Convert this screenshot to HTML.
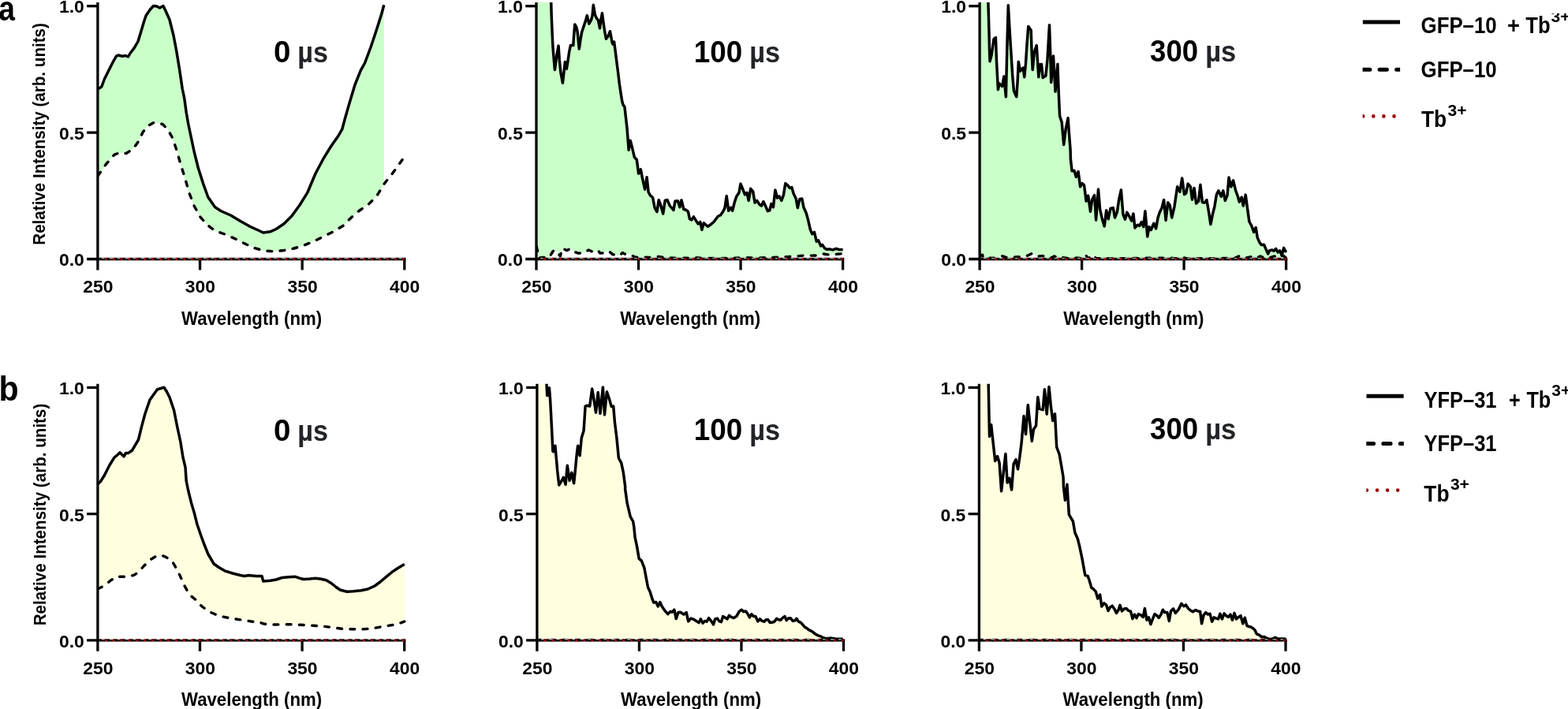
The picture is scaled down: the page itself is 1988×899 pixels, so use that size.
<!DOCTYPE html>
<html lang="en"><head><meta charset="utf-8"><title>Relative intensity spectra</title>
<style>html,body{margin:0;padding:0;background:#fff;overflow:hidden}svg{display:block}text{font-family:"Liberation Sans", sans-serif;font-weight:bold;fill:#000}</style></head>
<body>
<svg width="1988" height="899" viewBox="0 0 1988 899">
<rect width="1988" height="899" fill="#fff"/>
<g id="panel-a1">
<clipPath id="clip-a1"><rect x="123.9" y="3" width="391.9" height="327.5"/></clipPath>
<g clip-path="url(#clip-a1)">
<path d="M124 113 L128.8 110 L132.5 100 L137.5 90 L142.5 80 L147.5 71.2 L150 70 L155 71.2 L158.8 70.5 L162.5 72 L165 67.5 L170 61.2 L175 52.5 L178.8 40 L182.5 27.5 L185 20 L190 12.5 L194.5 7.5 L198.8 8 L202.5 10 L207 7.5 L210 13.8 L215 25 L220 45 L223.8 65 L227.5 87.5 L231.2 112.5 L233.8 125 L236.2 142.5 L238.8 157.5 L242.5 175 L246.2 192.5 L251.2 212.5 L257.5 232.5 L263.8 250 L272.5 262.5 L280 267.5 L292.5 273 L305 280.5 L317.5 287.5 L327.5 292 L333.8 295 L342.5 293.8 L350 290.5 L360 283.8 L370 273.8 L380 260 L390 243.8 L400 220 L410 201.2 L420 185 L428.8 172.5 L433.8 163.8 L437.5 150 L442.5 132.5 L450 107.5 L457.5 88.8 L462.5 80 L470 60 L477.5 37.5 L483.8 17.5 L486.8 6.2 L486.8 233.7 L477.5 248.8 L467.5 258.8 L455 267.5 L445 276.2 L435 286.2 L422.5 293.8 L410 300 L397.5 306.2 L385 311.2 L372.5 315 L360 317.5 L347.5 318.8 L335 318 L322.5 314.5 L310 308.8 L297.5 302.5 L285 297 L272.5 292.5 L262.5 285 L253.8 275 L246.2 261.2 L240 245 L235 227.5 L228.8 207.5 L223.8 190 L218.8 175 L212.5 163.8 L206.2 157.5 L195 155.5 L187.5 159.5 L181.2 167.5 L175 180 L168.8 188.8 L160 194.5 L151.2 193.8 L145 196.2 L135 207.5 L124 223Z" fill="#caffc9" stroke="none"/>
<path d="M124 223 L135 207.5 L145 196.2 L151.2 193.8 L160 194.5 L168.8 188.8 L175 180 L181.2 167.5 L187.5 159.5 L195 155.5 L206.2 157.5 L212.5 163.8 L218.8 175 L223.8 190 L228.8 207.5 L235 227.5 L240 245 L246.2 261.2 L253.8 275 L262.5 285 L272.5 292.5 L285 297 L297.5 302.5 L310 308.8 L322.5 314.5 L335 318 L347.5 318.8 L360 317.5 L372.5 315 L385 311.2 L397.5 306.2 L410 300 L422.5 293.8 L435 286.2 L445 276.2 L455 267.5 L467.5 258.8 L477.5 248.8 L487.5 232.5 L497.5 220 L507.5 206.2 L512.8 198.8" fill="none" stroke="#000" stroke-width="3.4" stroke-dasharray="5.8 10.4" stroke-linejoin="round" stroke-linecap="round"/>
<path d="M124 113 L128.8 110 L132.5 100 L137.5 90 L142.5 80 L147.5 71.2 L150 70 L155 71.2 L158.8 70.5 L162.5 72 L165 67.5 L170 61.2 L175 52.5 L178.8 40 L182.5 27.5 L185 20 L190 12.5 L194.5 7.5 L198.8 8 L202.5 10 L207 7.5 L210 13.8 L215 25 L220 45 L223.8 65 L227.5 87.5 L231.2 112.5 L233.8 125 L236.2 142.5 L238.8 157.5 L242.5 175 L246.2 192.5 L251.2 212.5 L257.5 232.5 L263.8 250 L272.5 262.5 L280 267.5 L292.5 273 L305 280.5 L317.5 287.5 L327.5 292 L333.8 295 L342.5 293.8 L350 290.5 L360 283.8 L370 273.8 L380 260 L390 243.8 L400 220 L410 201.2 L420 185 L428.8 172.5 L433.8 163.8 L437.5 150 L442.5 132.5 L450 107.5 L457.5 88.8 L462.5 80 L470 60 L477.5 37.5 L483.8 17.5 L486.8 6.2" fill="none" stroke="#000" stroke-width="3.5" stroke-linejoin="round" stroke-linecap="butt"/>
</g>
<path d="M110.1 328.5 H514.45" stroke="#000" stroke-width="3.3" fill="none"/>
<path d="M253.53 328.5 V342.4" stroke="#000" stroke-width="3.3" fill="none"/>
<path d="M383.17 328.5 V342.4" stroke="#000" stroke-width="3.3" fill="none"/>
<path d="M512.8 328.5 V342.4" stroke="#000" stroke-width="3.3" fill="none"/>
<path d="M125.55 327.5 H509.8" stroke="#fff" stroke-opacity="0.6" stroke-width="1.5" stroke-dasharray="3.6 6.32 5.4 4.52" stroke-dashoffset="-3.4" fill="none"/>
<path d="M124.4 328.5 H511.8" stroke="#b00000" stroke-width="3" stroke-linecap="round" stroke-dasharray="0 9.92" fill="none"/>
<path d="M123.9 3 V342.4" stroke="#000" stroke-width="3.3" fill="none"/>
<path d="M110.1 168.1 H123.9" stroke="#000" stroke-width="3.3" fill="none"/>
<path d="M110.1 7.7 H123.9" stroke="#000" stroke-width="3.3" fill="none"/>
<text x="124.3" y="371.4" font-size="22.9" text-anchor="middle" textLength="38.21" lengthAdjust="spacingAndGlyphs">250</text>
<text x="253.93" y="371.4" font-size="22.9" text-anchor="middle" textLength="38.21" lengthAdjust="spacingAndGlyphs">300</text>
<text x="383.57" y="371.4" font-size="22.9" text-anchor="middle" textLength="38.21" lengthAdjust="spacingAndGlyphs">350</text>
<text x="513.2" y="371.4" font-size="22.9" text-anchor="middle" textLength="38.21" lengthAdjust="spacingAndGlyphs">400</text>
<text x="106.8" y="337.4" font-size="22.9" text-anchor="end" textLength="31.84" lengthAdjust="spacingAndGlyphs">0.0</text>
<text x="106.8" y="177" font-size="22.9" text-anchor="end" textLength="31.84" lengthAdjust="spacingAndGlyphs">0.5</text>
<text x="106.8" y="16" font-size="22.9" text-anchor="end" textLength="31.84" lengthAdjust="spacingAndGlyphs">1.0</text>
<text x="230.04" y="412.3" font-size="23.9" textLength="178.09" lengthAdjust="spacingAndGlyphs">Wavelength (nm)</text>
<text y="79" font-size="38.5" xml:space="preserve"><tspan x="346.96" textLength="21.43" lengthAdjust="spacingAndGlyphs">0</tspan> <tspan x="377.37" font-size="37.5" fill="#222429" textLength="38.78" lengthAdjust="spacingAndGlyphs">µs</tspan></text>
<text transform="translate(56.7 310.74) rotate(-90)" font-size="22.9" textLength="281.62" lengthAdjust="spacingAndGlyphs">Relative Intensity (arb. units)</text>
</g>
<g id="panel-a2">
<clipPath id="clip-a2"><rect x="680" y="3" width="391.6" height="327.5"/></clipPath>
<g clip-path="url(#clip-a2)">
<path d="M680 -27 L698.7 -27 L698.7 3 L699.2 20 L700.1 41.8 L700.9 58.5 L702.1 73.5 L703.4 88.5 L705.9 70.1 L708.1 58.1 L709.2 75.2 L710.9 91.9 L713.4 105.2 L715.1 90.2 L716.4 78.5 L718.4 87.2 L720.1 76.8 L721.8 65.1 L723.4 57.6 L726.8 57.6 L727.6 45.1 L728.8 30.9 L731 35.1 L732.1 40.1 L734.3 62.1 L736 50.1 L737.6 40.9 L740.1 33.4 L742.6 25.9 L744.3 19.7 L746.8 30.1 L749.3 25.9 L751 20 L752.3 6.3 L754.3 18.4 L756 22.5 L758.5 25.9 L760.5 35.9 L761.9 25.1 L763.5 16.7 L765.2 30.1 L766.9 40.9 L768.5 49.3 L771 45.9 L773.5 39.7 L776 53.4 L776.9 55.9 L778.6 53.1 L780.2 65.1 L781.9 78.5 L783.6 91.9 L785.2 105.2 L786.9 116.9 L788.6 127.8 L789.9 132.8 L791.9 135.3 L793.4 148.5 L795.1 163.5 L797.1 190.2 L799.2 178.2 L801.8 188.3 L804.3 199.2 L807.3 202.5 L809.6 220.1 L812.3 214.7 L814.3 225.1 L817.6 240.1 L820.1 224.7 L822.1 243.5 L824.3 247.6 L827.6 250.5 L830.1 263.5 L833 268.5 L835.2 253.5 L837.7 260.2 L840.7 271 L843.2 254.3 L846 253.5 L849.3 261 L853.9 266.5 L856 255.1 L859.4 254.8 L861.9 262.7 L864 253.8 L866.9 265.5 L869.4 266 L872.4 268.2 L874.4 277.7 L876.9 278.9 L879.4 274.8 L882.7 280.2 L885.3 283.9 L887.8 281.4 L889.9 291.4 L892.3 282.7 L897.3 287.2 L901.1 284.7 L905.3 281 L910.3 274.3 L913.6 272.7 L917 267.7 L919 263.5 L921.2 248.5 L923.7 267.2 L926.7 263.2 L928.7 267.2 L931.2 256.8 L933.7 249.3 L937 244.3 L939 233.1 L941.2 238.4 L944.5 246.8 L947 244.3 L949.2 254.3 L951.7 239.3 L954.6 242.6 L957.1 257.1 L959.6 254.3 L962.9 259.3 L965.4 261 L967.9 255.5 L970.8 261.8 L973.4 267.7 L975.8 266.8 L977.9 258.5 L980.4 262.7 L982.9 240.9 L985.5 251 L988 248.8 L990.8 254.3 L993.5 246.8 L995.8 232.6 L998.8 235.1 L1001.3 238.4 L1003.8 237.6 L1006.3 246 L1009.2 251.8 L1011.3 263.5 L1013.8 252.6 L1016.8 252.1 L1018.9 262.7 L1022.2 270.2 L1024.7 279.4 L1027.2 290.5 L1029.7 296.6 L1032.5 294.4 L1035.2 306.1 L1037.6 304.9 L1040.6 311.9 L1042.6 310.3 L1045.6 314.9 L1048.9 316.4 L1051.4 315.8 L1055.6 316.9 L1059.8 315.3 L1063.9 316.4 L1068.6 316.6 L1068.6 321.6 L1060.6 322.3 L1052.3 323.3 L1043.9 321.9 L1037.2 323.9 L1027.2 324.1 L1020.5 323.9 L1008.8 324.9 L993.8 325.8 L975.4 326.6 L960.4 327 L943.7 326.6 L927 327.5 L893.6 327.5 L881.9 326.6 L876.9 327.3 L843.5 327 L835.2 325.3 L826.8 326.6 L815.1 326.1 L809.4 326.2 L805 325.9 L798.4 322.6 L791.7 322 L789.5 320.4 L785.1 324.2 L776.8 322.6 L771.8 318.4 L764.1 320.9 L760.7 321.1 L758.5 317.8 L752.4 319.8 L746.4 317 L739.7 320.9 L733.1 321.1 L727.5 319.2 L723.1 315.4 L718.7 317.6 L712.6 314.8 L710.4 324.8 L705.4 318.7 L703.2 317 L701 318.7 L699 322 L696.6 326.4 L693.2 326.7 L687.7 326.4 L682.7 327 L681.6 318.7 L680.2 312.6Z" fill="#caffc9" stroke="none"/>
<path d="M680.2 312.6 L681.6 318.7 L682.7 327 L687.7 326.4 L693.2 326.7 L696.6 326.4 L699 322 L701 318.7 L703.2 317 L705.4 318.7 L710.4 324.8 L712.6 314.8 L718.7 317.6 L723.1 315.4 L727.5 319.2 L733.1 321.1 L739.7 320.9 L746.4 317 L752.4 319.8 L758.5 317.8 L760.7 321.1 L764.1 320.9 L771.8 318.4 L776.8 322.6 L785.1 324.2 L789.5 320.4 L791.7 322 L798.4 322.6 L805 325.9 L809.4 326.2 L815.1 326.1 L826.8 326.6 L835.2 325.3 L843.5 327 L876.9 327.3 L881.9 326.6 L893.6 327.5 L927 327.5 L943.7 326.6 L960.4 327 L975.4 326.6 L993.8 325.8 L1008.8 324.9 L1020.5 323.9 L1027.2 324.1 L1037.2 323.9 L1043.9 321.9 L1052.3 323.3 L1060.6 322.3 L1068.6 321.6" fill="none" stroke="#000" stroke-width="3.4" stroke-dasharray="5.8 10.4" stroke-linejoin="round" stroke-linecap="round"/>
<path d="M698.7 -3.3 L698.7 3 L699.2 20 L700.1 41.8 L700.9 58.5 L702.1 73.5 L703.4 88.5 L705.9 70.1 L708.1 58.1 L709.2 75.2 L710.9 91.9 L713.4 105.2 L715.1 90.2 L716.4 78.5 L718.4 87.2 L720.1 76.8 L721.8 65.1 L723.4 57.6 L726.8 57.6 L727.6 45.1 L728.8 30.9 L731 35.1 L732.1 40.1 L734.3 62.1 L736 50.1 L737.6 40.9 L740.1 33.4 L742.6 25.9 L744.3 19.7 L746.8 30.1 L749.3 25.9 L751 20 L752.3 6.3 L754.3 18.4 L756 22.5 L758.5 25.9 L760.5 35.9 L761.9 25.1 L763.5 16.7 L765.2 30.1 L766.9 40.9 L768.5 49.3 L771 45.9 L773.5 39.7 L776 53.4 L776.9 55.9 L778.6 53.1 L780.2 65.1 L781.9 78.5 L783.6 91.9 L785.2 105.2 L786.9 116.9 L788.6 127.8 L789.9 132.8 L791.9 135.3 L793.4 148.5 L795.1 163.5 L797.1 190.2 L799.2 178.2 L801.8 188.3 L804.3 199.2 L807.3 202.5 L809.6 220.1 L812.3 214.7 L814.3 225.1 L817.6 240.1 L820.1 224.7 L822.1 243.5 L824.3 247.6 L827.6 250.5 L830.1 263.5 L833 268.5 L835.2 253.5 L837.7 260.2 L840.7 271 L843.2 254.3 L846 253.5 L849.3 261 L853.9 266.5 L856 255.1 L859.4 254.8 L861.9 262.7 L864 253.8 L866.9 265.5 L869.4 266 L872.4 268.2 L874.4 277.7 L876.9 278.9 L879.4 274.8 L882.7 280.2 L885.3 283.9 L887.8 281.4 L889.9 291.4 L892.3 282.7 L897.3 287.2 L901.1 284.7 L905.3 281 L910.3 274.3 L913.6 272.7 L917 267.7 L919 263.5 L921.2 248.5 L923.7 267.2 L926.7 263.2 L928.7 267.2 L931.2 256.8 L933.7 249.3 L937 244.3 L939 233.1 L941.2 238.4 L944.5 246.8 L947 244.3 L949.2 254.3 L951.7 239.3 L954.6 242.6 L957.1 257.1 L959.6 254.3 L962.9 259.3 L965.4 261 L967.9 255.5 L970.8 261.8 L973.4 267.7 L975.8 266.8 L977.9 258.5 L980.4 262.7 L982.9 240.9 L985.5 251 L988 248.8 L990.8 254.3 L993.5 246.8 L995.8 232.6 L998.8 235.1 L1001.3 238.4 L1003.8 237.6 L1006.3 246 L1009.2 251.8 L1011.3 263.5 L1013.8 252.6 L1016.8 252.1 L1018.9 262.7 L1022.2 270.2 L1024.7 279.4 L1027.2 290.5 L1029.7 296.6 L1032.5 294.4 L1035.2 306.1 L1037.6 304.9 L1040.6 311.9 L1042.6 310.3 L1045.6 314.9 L1048.9 316.4 L1051.4 315.8 L1055.6 316.9 L1059.8 315.3 L1063.9 316.4 L1068.6 316.6" fill="none" stroke="#000" stroke-width="3.5" stroke-linejoin="round" stroke-linecap="butt"/>
</g>
<path d="M666.2 328.5 H1070.25" stroke="#000" stroke-width="3.3" fill="none"/>
<path d="M809.53 328.5 V342.4" stroke="#000" stroke-width="3.3" fill="none"/>
<path d="M939.07 328.5 V342.4" stroke="#000" stroke-width="3.3" fill="none"/>
<path d="M1068.6 328.5 V342.4" stroke="#000" stroke-width="3.3" fill="none"/>
<path d="M681.65 327.5 H1065.6" stroke="#fff" stroke-opacity="0.6" stroke-width="1.5" stroke-dasharray="3.6 6.32 5.4 4.52" stroke-dashoffset="-3.4" fill="none"/>
<path d="M680.5 328.5 H1067.6" stroke="#b00000" stroke-width="3" stroke-linecap="round" stroke-dasharray="0 9.92" fill="none"/>
<path d="M680 3 V342.4" stroke="#000" stroke-width="3.3" fill="none"/>
<path d="M666.2 168.1 H680" stroke="#000" stroke-width="3.3" fill="none"/>
<path d="M666.2 7.7 H680" stroke="#000" stroke-width="3.3" fill="none"/>
<text x="680.4" y="371.4" font-size="22.9" text-anchor="middle" textLength="38.21" lengthAdjust="spacingAndGlyphs">250</text>
<text x="809.93" y="371.4" font-size="22.9" text-anchor="middle" textLength="38.21" lengthAdjust="spacingAndGlyphs">300</text>
<text x="939.47" y="371.4" font-size="22.9" text-anchor="middle" textLength="38.21" lengthAdjust="spacingAndGlyphs">350</text>
<text x="1069" y="371.4" font-size="22.9" text-anchor="middle" textLength="38.21" lengthAdjust="spacingAndGlyphs">400</text>
<text x="662.9" y="337.4" font-size="22.9" text-anchor="end" textLength="31.84" lengthAdjust="spacingAndGlyphs">0.0</text>
<text x="662.9" y="177" font-size="22.9" text-anchor="end" textLength="31.84" lengthAdjust="spacingAndGlyphs">0.5</text>
<text x="662.9" y="16" font-size="22.9" text-anchor="end" textLength="31.84" lengthAdjust="spacingAndGlyphs">1.0</text>
<text x="786.14" y="412.3" font-size="23.9" textLength="178.09" lengthAdjust="spacingAndGlyphs">Wavelength (nm)</text>
<text y="78.9" font-size="38.5" xml:space="preserve"><tspan x="879.8" textLength="61.41" lengthAdjust="spacingAndGlyphs">100</tspan> <tspan x="950.17" font-size="37.5" fill="#222429" textLength="38.89" lengthAdjust="spacingAndGlyphs">µs</tspan></text>
</g>
<g id="panel-a3">
<clipPath id="clip-a3"><rect x="1242.1" y="3" width="391.5" height="327.5"/></clipPath>
<g clip-path="url(#clip-a3)">
<path d="M1242.1 -27 L1252.9 -27 L1252.9 3 L1253.4 20 L1254 41.8 L1254.5 63.5 L1255 77.7 L1257.1 70.1 L1258.7 58.5 L1260.1 49.3 L1262.4 47.6 L1263.4 75.2 L1264.6 98.5 L1265.4 113.6 L1267.1 106 L1270.7 109.4 L1272.9 96.9 L1274.1 110.2 L1275.4 122.7 L1276.3 83.5 L1277.1 50.1 L1278.3 6.7 L1279.6 30.1 L1280.8 50.1 L1282.1 70.1 L1283.8 96.9 L1285.4 115.2 L1288.8 122.7 L1290.1 103.5 L1291.3 78.2 L1293.5 90.2 L1297.1 86 L1298.8 97.7 L1300.5 80.2 L1302.1 55.1 L1303.8 33.4 L1307.2 38.4 L1308 63.5 L1309.2 88.5 L1311.3 66 L1314.2 57.6 L1315.5 76.8 L1316.8 97.7 L1318.8 81.8 L1320.5 81.5 L1322.2 98.5 L1325.9 96 L1328 75.2 L1330.5 31.7 L1331.7 66.8 L1332.7 104.4 L1334.4 86.8 L1335.5 71 L1336.9 95.2 L1338 116.1 L1339.7 96.9 L1340.9 81.3 L1342.2 116.9 L1343.6 147 L1346.2 155.1 L1348.7 183.5 L1351.2 163.5 L1354.1 149.8 L1355.4 168.5 L1357.1 190.2 L1357.4 201.7 L1359.1 216.7 L1362.1 216.4 L1364.3 224.2 L1367.1 217.6 L1369.6 236.8 L1372.1 232.6 L1374.6 235.1 L1377.1 255.1 L1379.6 248.1 L1382.5 268.2 L1384.6 253.1 L1387.6 247.6 L1389.6 278.9 L1392.5 240.1 L1394.6 265.2 L1397.2 276.9 L1400.2 286.9 L1402.7 266.8 L1405.2 277.7 L1408 264.3 L1411.3 263.5 L1413.5 276 L1416.4 268.5 L1418.9 251.8 L1421.4 240.9 L1423.9 271.8 L1426.4 278.2 L1428.9 269.3 L1432.2 275.2 L1434.7 279.9 L1436.9 271 L1438.9 288.9 L1442.2 285.2 L1444.7 286.4 L1447.3 281.5 L1449.8 287.7 L1451.9 267.7 L1454.8 299.9 L1456.9 287.7 L1459.3 291.5 L1462.8 283.2 L1465.6 289.9 L1468.1 276 L1470.3 269.3 L1473.1 263.5 L1475.6 253.5 L1478.1 279.4 L1480.7 256.8 L1483.2 260.2 L1485.7 276 L1489 261.8 L1492.7 236.8 L1496 243.1 L1498.7 225.9 L1501.5 246.5 L1503.7 245.1 L1506.2 233.1 L1509.4 236.8 L1511.5 253.1 L1514.1 238.4 L1516.6 258 L1519.6 255.1 L1521.9 234.3 L1524.4 256.5 L1527.1 257.1 L1529.9 253.5 L1532.8 270.2 L1534.9 284.4 L1537.4 271.8 L1539.9 261.8 L1542.4 246.8 L1544.9 241.8 L1548.3 249.3 L1550.8 241.8 L1553.3 254.3 L1556.1 247.6 L1558 225.1 L1560.8 236.8 L1563.6 228.8 L1566.7 241.8 L1569.2 248.5 L1571.3 256 L1574.2 250.1 L1576.3 261 L1579.2 247.1 L1581.7 265.2 L1583.9 281 L1586.7 286 L1589.7 294.4 L1592.2 288.5 L1594.2 301.1 L1596.7 306.9 L1599.2 310.6 L1602.6 310.3 L1605.1 316.1 L1607.6 321.9 L1609.6 317.8 L1612.6 316.9 L1615.1 318.1 L1617.6 315.3 L1620.1 319.9 L1622.6 317.8 L1625.1 323.6 L1627.6 314.4 L1630.6 319.9 L1630.6 327 L1625.9 323.6 L1622.6 327 L1615.9 324.9 L1605.9 327.8 L1597.6 324.9 L1592.5 327.8 L1585.9 325.6 L1575.8 327.8 L1570.8 324.9 L1564.2 327.8 L1560 326.1 L1555.8 327.5 L1505.7 327.8 L1499.9 326.6 L1489 327.8 L1484 327 L1405.5 327.8 L1389.6 327.8 L1386.3 323.3 L1379.6 327.8 L1376.3 323.3 L1372.1 327.8 L1365.4 327 L1355.4 327.8 L1347.1 326.6 L1342 327.8 L1337 324.9 L1332 327 L1325.3 326.1 L1322 324.4 L1315.9 325.2 L1308.4 321.4 L1300.8 325.2 L1290.8 325.7 L1275.7 326.4 L1270.7 324.6 L1260.6 327.2 L1246.8 327.2 L1245.5 323.1 L1242.2 325.2Z" fill="#caffc9" stroke="none"/>
<path d="M1242.2 325.2 L1245.5 323.1 L1246.8 327.2 L1260.6 327.2 L1270.7 324.6 L1275.7 326.4 L1290.8 325.7 L1300.8 325.2 L1308.4 321.4 L1315.9 325.2 L1322 324.4 L1325.3 326.1 L1332 327 L1337 324.9 L1342 327.8 L1347.1 326.6 L1355.4 327.8 L1365.4 327 L1372.1 327.8 L1376.3 323.3 L1379.6 327.8 L1386.3 323.3 L1389.6 327.8 L1405.5 327.8 L1484 327 L1489 327.8 L1499.9 326.6 L1505.7 327.8 L1555.8 327.5 L1560 326.1 L1564.2 327.8 L1570.8 324.9 L1575.8 327.8 L1585.9 325.6 L1592.5 327.8 L1597.6 324.9 L1605.9 327.8 L1615.9 324.9 L1622.6 327 L1625.9 323.6 L1630.6 327" fill="none" stroke="#000" stroke-width="3.4" stroke-dasharray="5.8 10.4" stroke-linejoin="round" stroke-linecap="round"/>
<path d="M1252.9 -3.3 L1252.9 3 L1253.4 20 L1254 41.8 L1254.5 63.5 L1255 77.7 L1257.1 70.1 L1258.7 58.5 L1260.1 49.3 L1262.4 47.6 L1263.4 75.2 L1264.6 98.5 L1265.4 113.6 L1267.1 106 L1270.7 109.4 L1272.9 96.9 L1274.1 110.2 L1275.4 122.7 L1276.3 83.5 L1277.1 50.1 L1278.3 6.7 L1279.6 30.1 L1280.8 50.1 L1282.1 70.1 L1283.8 96.9 L1285.4 115.2 L1288.8 122.7 L1290.1 103.5 L1291.3 78.2 L1293.5 90.2 L1297.1 86 L1298.8 97.7 L1300.5 80.2 L1302.1 55.1 L1303.8 33.4 L1307.2 38.4 L1308 63.5 L1309.2 88.5 L1311.3 66 L1314.2 57.6 L1315.5 76.8 L1316.8 97.7 L1318.8 81.8 L1320.5 81.5 L1322.2 98.5 L1325.9 96 L1328 75.2 L1330.5 31.7 L1331.7 66.8 L1332.7 104.4 L1334.4 86.8 L1335.5 71 L1336.9 95.2 L1338 116.1 L1339.7 96.9 L1340.9 81.3 L1342.2 116.9 L1343.6 147 L1346.2 155.1 L1348.7 183.5 L1351.2 163.5 L1354.1 149.8 L1355.4 168.5 L1357.1 190.2 L1357.4 201.7 L1359.1 216.7 L1362.1 216.4 L1364.3 224.2 L1367.1 217.6 L1369.6 236.8 L1372.1 232.6 L1374.6 235.1 L1377.1 255.1 L1379.6 248.1 L1382.5 268.2 L1384.6 253.1 L1387.6 247.6 L1389.6 278.9 L1392.5 240.1 L1394.6 265.2 L1397.2 276.9 L1400.2 286.9 L1402.7 266.8 L1405.2 277.7 L1408 264.3 L1411.3 263.5 L1413.5 276 L1416.4 268.5 L1418.9 251.8 L1421.4 240.9 L1423.9 271.8 L1426.4 278.2 L1428.9 269.3 L1432.2 275.2 L1434.7 279.9 L1436.9 271 L1438.9 288.9 L1442.2 285.2 L1444.7 286.4 L1447.3 281.5 L1449.8 287.7 L1451.9 267.7 L1454.8 299.9 L1456.9 287.7 L1459.3 291.5 L1462.8 283.2 L1465.6 289.9 L1468.1 276 L1470.3 269.3 L1473.1 263.5 L1475.6 253.5 L1478.1 279.4 L1480.7 256.8 L1483.2 260.2 L1485.7 276 L1489 261.8 L1492.7 236.8 L1496 243.1 L1498.7 225.9 L1501.5 246.5 L1503.7 245.1 L1506.2 233.1 L1509.4 236.8 L1511.5 253.1 L1514.1 238.4 L1516.6 258 L1519.6 255.1 L1521.9 234.3 L1524.4 256.5 L1527.1 257.1 L1529.9 253.5 L1532.8 270.2 L1534.9 284.4 L1537.4 271.8 L1539.9 261.8 L1542.4 246.8 L1544.9 241.8 L1548.3 249.3 L1550.8 241.8 L1553.3 254.3 L1556.1 247.6 L1558 225.1 L1560.8 236.8 L1563.6 228.8 L1566.7 241.8 L1569.2 248.5 L1571.3 256 L1574.2 250.1 L1576.3 261 L1579.2 247.1 L1581.7 265.2 L1583.9 281 L1586.7 286 L1589.7 294.4 L1592.2 288.5 L1594.2 301.1 L1596.7 306.9 L1599.2 310.6 L1602.6 310.3 L1605.1 316.1 L1607.6 321.9 L1609.6 317.8 L1612.6 316.9 L1615.1 318.1 L1617.6 315.3 L1620.1 319.9 L1622.6 317.8 L1625.1 323.6 L1627.6 314.4 L1630.6 319.9" fill="none" stroke="#000" stroke-width="3.5" stroke-linejoin="round" stroke-linecap="butt"/>
</g>
<path d="M1228.3 328.5 H1632.25" stroke="#000" stroke-width="3.3" fill="none"/>
<path d="M1371.6 328.5 V342.4" stroke="#000" stroke-width="3.3" fill="none"/>
<path d="M1501.1 328.5 V342.4" stroke="#000" stroke-width="3.3" fill="none"/>
<path d="M1630.6 328.5 V342.4" stroke="#000" stroke-width="3.3" fill="none"/>
<path d="M1243.75 327.5 H1627.6" stroke="#fff" stroke-opacity="0.6" stroke-width="1.5" stroke-dasharray="3.6 6.32 5.4 4.52" stroke-dashoffset="-3.4" fill="none"/>
<path d="M1242.6 328.5 H1629.6" stroke="#b00000" stroke-width="3" stroke-linecap="round" stroke-dasharray="0 9.92" fill="none"/>
<path d="M1242.1 3 V342.4" stroke="#000" stroke-width="3.3" fill="none"/>
<path d="M1228.3 168.1 H1242.1" stroke="#000" stroke-width="3.3" fill="none"/>
<path d="M1228.3 7.7 H1242.1" stroke="#000" stroke-width="3.3" fill="none"/>
<text x="1242.5" y="371.4" font-size="22.9" text-anchor="middle" textLength="38.21" lengthAdjust="spacingAndGlyphs">250</text>
<text x="1372" y="371.4" font-size="22.9" text-anchor="middle" textLength="38.21" lengthAdjust="spacingAndGlyphs">300</text>
<text x="1501.5" y="371.4" font-size="22.9" text-anchor="middle" textLength="38.21" lengthAdjust="spacingAndGlyphs">350</text>
<text x="1631" y="371.4" font-size="22.9" text-anchor="middle" textLength="38.21" lengthAdjust="spacingAndGlyphs">400</text>
<text x="1225" y="337.4" font-size="22.9" text-anchor="end" textLength="31.84" lengthAdjust="spacingAndGlyphs">0.0</text>
<text x="1225" y="177" font-size="22.9" text-anchor="end" textLength="31.84" lengthAdjust="spacingAndGlyphs">0.5</text>
<text x="1225" y="16" font-size="22.9" text-anchor="end" textLength="31.84" lengthAdjust="spacingAndGlyphs">1.0</text>
<text x="1348.24" y="412.3" font-size="23.9" textLength="178.09" lengthAdjust="spacingAndGlyphs">Wavelength (nm)</text>
<text y="77.5" font-size="38.5" xml:space="preserve"><tspan x="1458.08" textLength="61.02" lengthAdjust="spacingAndGlyphs">300</tspan> <tspan x="1528.16" font-size="37.5" fill="#222429" textLength="39.11" lengthAdjust="spacingAndGlyphs">µs</tspan></text>
</g>
<g id="panel-b1">
<clipPath id="clip-b1"><rect x="123.9" y="486.7" width="391.8" height="327.15"/></clipPath>
<g clip-path="url(#clip-b1)">
<path d="M124 613.8 L127.5 610.5 L132.5 602.5 L138.8 590 L145 580 L148.8 577 L152 573.8 L157 578.8 L159.5 574.5 L162.5 574.5 L167.5 571.2 L175.5 557.5 L179.5 541.2 L183.8 525 L190 507 L195 500 L199.5 493.8 L203.8 492.5 L208 491.2 L211.2 496.2 L215 503.8 L220.5 520 L225 542.5 L228.8 560 L232 580 L235 592.5 L236.2 610 L238.8 622.5 L242.5 637.5 L246.2 650 L250 665 L253.8 676.2 L258.8 690 L263.8 702.5 L271.2 715 L277.5 719.5 L285 723.8 L295 727 L305 729.5 L310 730.5 L315 729.5 L325 730.5 L332 730.5 L333.8 737 L342.5 736.2 L350 735 L357.5 732.5 L365 731.8 L373.8 731.2 L380 733.2 L385 734.5 L392.5 734 L400 733.2 L407.5 734.2 L413.8 735.8 L420 739.5 L426.2 744.5 L431.2 748 L440 750.2 L447.5 749.8 L457.5 748.8 L466.2 747 L475 743 L482.5 737.5 L490 731.2 L497.5 725 L505 720 L512.8 715.5 L512.8 788 L507.5 790 L497.5 792.5 L485 794.5 L472.5 796.8 L460 797.8 L447.5 797.8 L435 797.5 L422.5 795.8 L410 794.2 L397.5 793.2 L385 792.5 L372.5 791.8 L360 791.8 L347.5 792 L335 791.2 L330 789.5 L320 788.2 L307.5 786.2 L295 784.5 L282.5 782 L272.5 778.8 L263.8 775 L255 768 L247.5 760 L240 753.8 L233.8 742.5 L228.8 731.2 L223.8 721.2 L218.8 712.5 L211.2 706.8 L205 704.2 L197.5 705.5 L190 710 L182.5 717.5 L176.2 725 L170 729.2 L162.5 731.2 L155 731.2 L147.5 731.2 L140 736.2 L132.5 742.5 L124 746.8Z" fill="#ffffe0" stroke="none"/>
<path d="M124 746.8 L132.5 742.5 L140 736.2 L147.5 731.2 L155 731.2 L162.5 731.2 L170 729.2 L176.2 725 L182.5 717.5 L190 710 L197.5 705.5 L205 704.2 L211.2 706.8 L218.8 712.5 L223.8 721.2 L228.8 731.2 L233.8 742.5 L240 753.8 L247.5 760 L255 768 L263.8 775 L272.5 778.8 L282.5 782 L295 784.5 L307.5 786.2 L320 788.2 L330 789.5 L335 791.2 L347.5 792 L360 791.8 L372.5 791.8 L385 792.5 L397.5 793.2 L410 794.2 L422.5 795.8 L435 797.5 L447.5 797.8 L460 797.8 L472.5 796.8 L485 794.5 L497.5 792.5 L507.5 790 L512.8 788" fill="none" stroke="#000" stroke-width="3.4" stroke-dasharray="5.8 10.4" stroke-linejoin="round" stroke-linecap="round"/>
<path d="M124 613.8 L127.5 610.5 L132.5 602.5 L138.8 590 L145 580 L148.8 577 L152 573.8 L157 578.8 L159.5 574.5 L162.5 574.5 L167.5 571.2 L175.5 557.5 L179.5 541.2 L183.8 525 L190 507 L195 500 L199.5 493.8 L203.8 492.5 L208 491.2 L211.2 496.2 L215 503.8 L220.5 520 L225 542.5 L228.8 560 L232 580 L235 592.5 L236.2 610 L238.8 622.5 L242.5 637.5 L246.2 650 L250 665 L253.8 676.2 L258.8 690 L263.8 702.5 L271.2 715 L277.5 719.5 L285 723.8 L295 727 L305 729.5 L310 730.5 L315 729.5 L325 730.5 L332 730.5 L333.8 737 L342.5 736.2 L350 735 L357.5 732.5 L365 731.8 L373.8 731.2 L380 733.2 L385 734.5 L392.5 734 L400 733.2 L407.5 734.2 L413.8 735.8 L420 739.5 L426.2 744.5 L431.2 748 L440 750.2 L447.5 749.8 L457.5 748.8 L466.2 747 L475 743 L482.5 737.5 L490 731.2 L497.5 725 L505 720 L512.8 715.5" fill="none" stroke="#000" stroke-width="3.5" stroke-linejoin="round" stroke-linecap="butt"/>
</g>
<path d="M110.1 811.85 H514.35" stroke="#000" stroke-width="3.3" fill="none"/>
<path d="M253.5 811.85 V825.75" stroke="#000" stroke-width="3.3" fill="none"/>
<path d="M383.1 811.85 V825.75" stroke="#000" stroke-width="3.3" fill="none"/>
<path d="M512.7 811.85 V825.75" stroke="#000" stroke-width="3.3" fill="none"/>
<path d="M125.55 810.85 H509.7" stroke="#fff" stroke-opacity="0.6" stroke-width="1.5" stroke-dasharray="3.6 6.32 5.4 4.52" stroke-dashoffset="-3.4" fill="none"/>
<path d="M124.4 811.85 H511.7" stroke="#b00000" stroke-width="3" stroke-linecap="round" stroke-dasharray="0 9.92" fill="none"/>
<path d="M123.9 486.7 V825.75" stroke="#000" stroke-width="3.3" fill="none"/>
<path d="M110.1 651.62 H123.9" stroke="#000" stroke-width="3.3" fill="none"/>
<path d="M110.1 491.4 H123.9" stroke="#000" stroke-width="3.3" fill="none"/>
<text x="124.3" y="854.75" font-size="22.9" text-anchor="middle" textLength="38.21" lengthAdjust="spacingAndGlyphs">250</text>
<text x="253.9" y="854.75" font-size="22.9" text-anchor="middle" textLength="38.21" lengthAdjust="spacingAndGlyphs">300</text>
<text x="383.5" y="854.75" font-size="22.9" text-anchor="middle" textLength="38.21" lengthAdjust="spacingAndGlyphs">350</text>
<text x="513.1" y="854.75" font-size="22.9" text-anchor="middle" textLength="38.21" lengthAdjust="spacingAndGlyphs">400</text>
<text x="106.8" y="820.75" font-size="22.9" text-anchor="end" textLength="31.84" lengthAdjust="spacingAndGlyphs">0.0</text>
<text x="106.8" y="660.52" font-size="22.9" text-anchor="end" textLength="31.84" lengthAdjust="spacingAndGlyphs">0.5</text>
<text x="106.8" y="500.3" font-size="22.9" text-anchor="end" textLength="31.84" lengthAdjust="spacingAndGlyphs">1.0</text>
<text x="230.04" y="895.3" font-size="23.9" textLength="178.09" lengthAdjust="spacingAndGlyphs">Wavelength (nm)</text>
<text y="558.7" font-size="38.5" xml:space="preserve"><tspan x="346.96" textLength="21.43" lengthAdjust="spacingAndGlyphs">0</tspan> <tspan x="377.37" font-size="37.5" fill="#222429" textLength="38.78" lengthAdjust="spacingAndGlyphs">µs</tspan></text>
<text transform="translate(57.5 793.32) rotate(-90)" font-size="22.9" textLength="281.62" lengthAdjust="spacingAndGlyphs">Relative Intensity (arb. units)</text>
</g>
<g id="panel-b2">
<clipPath id="clip-b2"><rect x="680.9" y="486.7" width="391.6" height="327.15"/></clipPath>
<g clip-path="url(#clip-b2)">
<path d="M680.9 456.7 L693 456.7 L693 487 L693.7 501.4 L695.4 501.4 L696.4 491.7 L697.6 506.7 L698.4 521.8 L699.7 546.8 L700.9 571.9 L701.7 572.7 L703.9 565.2 L705.1 578.5 L706.7 596.9 L708.7 614.9 L711.8 610.3 L714.3 605.3 L717.1 614.4 L719.3 590.2 L722.1 609.4 L724.8 599.4 L727.6 612.8 L729.3 596.9 L731 578.5 L732.6 565.2 L735.1 577.7 L737.3 555.2 L740.1 546 L742.1 515.1 L744.3 514.2 L747.7 515.1 L750.7 493 L753 506.7 L755.5 523.1 L758.2 497.5 L761 524.3 L764.4 490.9 L766.5 525.9 L769.4 496.7 L772.2 505.1 L775.2 515.4 L777.7 515.1 L779.4 535.1 L781.9 555.2 L784.4 581 L787.7 586.9 L790.2 598.6 L792.7 616.9 L792.6 620 L795.1 637.6 L799.2 655.1 L802.6 661 L803.8 668 L805.1 681.4 L807.6 693.1 L810.1 708.1 L813.4 711.1 L816.8 719.8 L819.3 733.1 L821.5 744.8 L824.3 750.7 L826.8 759 L828.8 764 L831.8 763.5 L834.3 769 L836.8 763.5 L839.3 769 L842.7 774 L846.8 778.6 L850.2 775.2 L852.2 776.2 L854.9 773.2 L857.2 784.6 L859.9 776.6 L862.7 776.2 L866.9 779.1 L870.2 776.6 L872.7 787.9 L876.1 784.1 L880.2 785.7 L886.1 789.6 L888.3 784.9 L891.1 790.2 L893.6 787.4 L896.1 788.2 L898.6 783.6 L902 787.9 L904.5 791.9 L906.6 784.9 L909.5 784.1 L912 787.9 L914.5 788.6 L916.6 781.6 L919.5 783.2 L922 784.9 L924.5 780.4 L927 782.4 L930.3 783.6 L933.7 781.6 L937 775.7 L940 773.2 L942.9 775.7 L945.4 774.9 L947.9 778.2 L950.4 782.9 L952.9 778.7 L955.4 781.6 L957.9 781.6 L960.9 787.9 L963.4 784.9 L966.2 787.4 L968.8 788.2 L971.3 785.7 L973.8 785.7 L976.3 789.6 L979.6 789.1 L982.1 787.9 L984.6 784.4 L987.1 785.7 L989.6 786.2 L992.5 783.2 L995.1 781.6 L997.1 786.6 L999.6 784.1 L1002.2 783.7 L1005.2 787.4 L1008 786.9 L1010 784.4 L1012.2 787.9 L1015.5 789.6 L1018 792.4 L1020.5 795.3 L1023 796.6 L1025.5 798.6 L1028 799.9 L1030.5 801.3 L1033.9 804.1 L1037.2 805.8 L1040.6 806.9 L1043.9 808.8 L1047.2 809.6 L1050.6 809.6 L1053.9 809.1 L1058.9 810 L1068.6 810.3 L1069.5 811.5 L680.9 811.5Z" fill="#ffffe0" stroke="none"/>
<path d="M680.9 811.5 L1069.5 811.5" fill="none" stroke="#000" stroke-width="3.4" stroke-dasharray="5.8 10.4" stroke-linejoin="round" stroke-linecap="round"/>
<path d="M693 473.3 L693 487 L693.7 501.4 L695.4 501.4 L696.4 491.7 L697.6 506.7 L698.4 521.8 L699.7 546.8 L700.9 571.9 L701.7 572.7 L703.9 565.2 L705.1 578.5 L706.7 596.9 L708.7 614.9 L711.8 610.3 L714.3 605.3 L717.1 614.4 L719.3 590.2 L722.1 609.4 L724.8 599.4 L727.6 612.8 L729.3 596.9 L731 578.5 L732.6 565.2 L735.1 577.7 L737.3 555.2 L740.1 546 L742.1 515.1 L744.3 514.2 L747.7 515.1 L750.7 493 L753 506.7 L755.5 523.1 L758.2 497.5 L761 524.3 L764.4 490.9 L766.5 525.9 L769.4 496.7 L772.2 505.1 L775.2 515.4 L777.7 515.1 L779.4 535.1 L781.9 555.2 L784.4 581 L787.7 586.9 L790.2 598.6 L792.7 616.9 L792.6 620 L795.1 637.6 L799.2 655.1 L802.6 661 L803.8 668 L805.1 681.4 L807.6 693.1 L810.1 708.1 L813.4 711.1 L816.8 719.8 L819.3 733.1 L821.5 744.8 L824.3 750.7 L826.8 759 L828.8 764 L831.8 763.5 L834.3 769 L836.8 763.5 L839.3 769 L842.7 774 L846.8 778.6 L850.2 775.2 L852.2 776.2 L854.9 773.2 L857.2 784.6 L859.9 776.6 L862.7 776.2 L866.9 779.1 L870.2 776.6 L872.7 787.9 L876.1 784.1 L880.2 785.7 L886.1 789.6 L888.3 784.9 L891.1 790.2 L893.6 787.4 L896.1 788.2 L898.6 783.6 L902 787.9 L904.5 791.9 L906.6 784.9 L909.5 784.1 L912 787.9 L914.5 788.6 L916.6 781.6 L919.5 783.2 L922 784.9 L924.5 780.4 L927 782.4 L930.3 783.6 L933.7 781.6 L937 775.7 L940 773.2 L942.9 775.7 L945.4 774.9 L947.9 778.2 L950.4 782.9 L952.9 778.7 L955.4 781.6 L957.9 781.6 L960.9 787.9 L963.4 784.9 L966.2 787.4 L968.8 788.2 L971.3 785.7 L973.8 785.7 L976.3 789.6 L979.6 789.1 L982.1 787.9 L984.6 784.4 L987.1 785.7 L989.6 786.2 L992.5 783.2 L995.1 781.6 L997.1 786.6 L999.6 784.1 L1002.2 783.7 L1005.2 787.4 L1008 786.9 L1010 784.4 L1012.2 787.9 L1015.5 789.6 L1018 792.4 L1020.5 795.3 L1023 796.6 L1025.5 798.6 L1028 799.9 L1030.5 801.3 L1033.9 804.1 L1037.2 805.8 L1040.6 806.9 L1043.9 808.8 L1047.2 809.6 L1050.6 809.6 L1053.9 809.1 L1058.9 810 L1068.6 810.3" fill="none" stroke="#000" stroke-width="3.5" stroke-linejoin="round" stroke-linecap="butt"/>
</g>
<path d="M667.1 811.85 H1071.15" stroke="#000" stroke-width="3.3" fill="none"/>
<path d="M810.43 811.85 V825.75" stroke="#000" stroke-width="3.3" fill="none"/>
<path d="M939.97 811.85 V825.75" stroke="#000" stroke-width="3.3" fill="none"/>
<path d="M1069.5 811.85 V825.75" stroke="#000" stroke-width="3.3" fill="none"/>
<path d="M682.55 810.85 H1066.5" stroke="#fff" stroke-opacity="0.6" stroke-width="1.5" stroke-dasharray="3.6 6.32 5.4 4.52" stroke-dashoffset="-3.4" fill="none"/>
<path d="M681.4 811.85 H1068.5" stroke="#b00000" stroke-width="3" stroke-linecap="round" stroke-dasharray="0 9.92" fill="none"/>
<path d="M680.9 486.7 V825.75" stroke="#000" stroke-width="3.3" fill="none"/>
<path d="M667.1 651.62 H680.9" stroke="#000" stroke-width="3.3" fill="none"/>
<path d="M667.1 491.4 H680.9" stroke="#000" stroke-width="3.3" fill="none"/>
<text x="681.3" y="854.75" font-size="22.9" text-anchor="middle" textLength="38.21" lengthAdjust="spacingAndGlyphs">250</text>
<text x="810.83" y="854.75" font-size="22.9" text-anchor="middle" textLength="38.21" lengthAdjust="spacingAndGlyphs">300</text>
<text x="940.37" y="854.75" font-size="22.9" text-anchor="middle" textLength="38.21" lengthAdjust="spacingAndGlyphs">350</text>
<text x="1069.9" y="854.75" font-size="22.9" text-anchor="middle" textLength="38.21" lengthAdjust="spacingAndGlyphs">400</text>
<text x="663.8" y="820.75" font-size="22.9" text-anchor="end" textLength="31.84" lengthAdjust="spacingAndGlyphs">0.0</text>
<text x="663.8" y="660.52" font-size="22.9" text-anchor="end" textLength="31.84" lengthAdjust="spacingAndGlyphs">0.5</text>
<text x="663.8" y="500.3" font-size="22.9" text-anchor="end" textLength="31.84" lengthAdjust="spacingAndGlyphs">1.0</text>
<text x="787.04" y="895.3" font-size="23.9" textLength="178.09" lengthAdjust="spacingAndGlyphs">Wavelength (nm)</text>
<text y="558.4" font-size="38.5" xml:space="preserve"><tspan x="879.8" textLength="61.41" lengthAdjust="spacingAndGlyphs">100</tspan> <tspan x="950.17" font-size="37.5" fill="#222429" textLength="38.89" lengthAdjust="spacingAndGlyphs">µs</tspan></text>
</g>
<g id="panel-b3">
<clipPath id="clip-b3"><rect x="1241.4" y="486.7" width="391.6" height="327.15"/></clipPath>
<g clip-path="url(#clip-b3)">
<path d="M1241.4 456.7 L1253.2 456.7 L1253.2 487 L1253.7 513.4 L1254.2 538.5 L1254.5 553.5 L1256.7 538.5 L1257.9 550.1 L1259.6 565.2 L1261.7 584.4 L1264.6 578.5 L1267.1 586.9 L1269.6 622.8 L1272.1 600.2 L1274.9 575.5 L1277.1 611.9 L1279.9 606.4 L1282.6 621.1 L1285.1 588.6 L1287.9 582.7 L1290.5 594.9 L1293 578.5 L1295.1 561.8 L1298 527.6 L1300.5 550.5 L1303.3 513.4 L1305.8 536.8 L1308.3 559.3 L1310.5 544.3 L1313.5 540.1 L1315.8 503.4 L1318 518.4 L1322.2 519.7 L1324.4 493.7 L1327.2 525.1 L1330 490.4 L1332.2 513.4 L1334.7 533.4 L1337.5 524.8 L1339.7 566.8 L1343.1 576 L1345.6 590.2 L1348.1 605.3 L1348.4 616.7 L1350.4 634.2 L1352.9 614.2 L1354.1 633.4 L1355.4 652.6 L1360.4 661 L1361.6 668 L1362.9 675.5 L1366.3 683 L1368.8 693.1 L1372.1 708.9 L1375.8 729.5 L1379.1 730.1 L1381.3 736.5 L1383.8 745.2 L1386.3 746.8 L1389.3 750.2 L1391.8 759 L1394.6 754 L1396.8 769 L1399.7 764.9 L1402.5 766.9 L1405 774.4 L1407.5 769.9 L1410.2 768.2 L1413 772.4 L1415.5 777.4 L1418 773.5 L1420 767.4 L1422.5 774.9 L1425.2 772 L1428 771.5 L1430.9 774.4 L1433.6 775.2 L1435.9 784.6 L1438.4 779.1 L1440.9 783.6 L1443.4 778.6 L1446.4 779.9 L1449.3 782.4 L1451.4 771.5 L1453.9 786.2 L1456.4 782.9 L1458.9 791.6 L1461.4 784.9 L1464 778.6 L1466.5 780.2 L1469.3 783.2 L1472 779.1 L1474.3 773.2 L1476.8 776.6 L1479.8 776.6 L1482.3 787.4 L1484.5 774.9 L1487.7 771.9 L1490.3 777.4 L1494 773.2 L1497.9 765.4 L1500.7 768.7 L1503.5 766.9 L1506.5 771.5 L1509.4 774 L1512.4 775.7 L1515.7 773.5 L1518.7 774.9 L1521.6 775.2 L1523.6 790.7 L1526.1 779.9 L1528.7 776.6 L1531.6 779.1 L1534.1 778.2 L1536.6 788.2 L1539.1 782.9 L1542.1 784.1 L1544.6 784.9 L1546.9 778.2 L1549.5 784.9 L1552.1 777.9 L1555 781.2 L1557.5 782.4 L1560 779.1 L1562.5 786.2 L1565 777.4 L1567.5 784.9 L1570.3 782.4 L1573 780.7 L1575.8 790.7 L1578.3 783.2 L1580.9 793.3 L1583.7 794.6 L1585.9 794.9 L1588.4 796.6 L1590.9 798.8 L1593.4 804.1 L1596.2 804.9 L1599.2 807.4 L1602.6 807.4 L1605.9 809.1 L1609.2 810.3 L1613.4 810 L1616.8 808.3 L1620.1 810 L1625.9 810 L1630.6 810.3 L1630 811.5 L1241.4 811.5Z" fill="#ffffe0" stroke="none"/>
<path d="M1241.4 811.5 L1630 811.5" fill="none" stroke="#000" stroke-width="3.4" stroke-dasharray="5.8 10.4" stroke-linejoin="round" stroke-linecap="round"/>
<path d="M1253.2 473.3 L1253.2 487 L1253.7 513.4 L1254.2 538.5 L1254.5 553.5 L1256.7 538.5 L1257.9 550.1 L1259.6 565.2 L1261.7 584.4 L1264.6 578.5 L1267.1 586.9 L1269.6 622.8 L1272.1 600.2 L1274.9 575.5 L1277.1 611.9 L1279.9 606.4 L1282.6 621.1 L1285.1 588.6 L1287.9 582.7 L1290.5 594.9 L1293 578.5 L1295.1 561.8 L1298 527.6 L1300.5 550.5 L1303.3 513.4 L1305.8 536.8 L1308.3 559.3 L1310.5 544.3 L1313.5 540.1 L1315.8 503.4 L1318 518.4 L1322.2 519.7 L1324.4 493.7 L1327.2 525.1 L1330 490.4 L1332.2 513.4 L1334.7 533.4 L1337.5 524.8 L1339.7 566.8 L1343.1 576 L1345.6 590.2 L1348.1 605.3 L1348.4 616.7 L1350.4 634.2 L1352.9 614.2 L1354.1 633.4 L1355.4 652.6 L1360.4 661 L1361.6 668 L1362.9 675.5 L1366.3 683 L1368.8 693.1 L1372.1 708.9 L1375.8 729.5 L1379.1 730.1 L1381.3 736.5 L1383.8 745.2 L1386.3 746.8 L1389.3 750.2 L1391.8 759 L1394.6 754 L1396.8 769 L1399.7 764.9 L1402.5 766.9 L1405 774.4 L1407.5 769.9 L1410.2 768.2 L1413 772.4 L1415.5 777.4 L1418 773.5 L1420 767.4 L1422.5 774.9 L1425.2 772 L1428 771.5 L1430.9 774.4 L1433.6 775.2 L1435.9 784.6 L1438.4 779.1 L1440.9 783.6 L1443.4 778.6 L1446.4 779.9 L1449.3 782.4 L1451.4 771.5 L1453.9 786.2 L1456.4 782.9 L1458.9 791.6 L1461.4 784.9 L1464 778.6 L1466.5 780.2 L1469.3 783.2 L1472 779.1 L1474.3 773.2 L1476.8 776.6 L1479.8 776.6 L1482.3 787.4 L1484.5 774.9 L1487.7 771.9 L1490.3 777.4 L1494 773.2 L1497.9 765.4 L1500.7 768.7 L1503.5 766.9 L1506.5 771.5 L1509.4 774 L1512.4 775.7 L1515.7 773.5 L1518.7 774.9 L1521.6 775.2 L1523.6 790.7 L1526.1 779.9 L1528.7 776.6 L1531.6 779.1 L1534.1 778.2 L1536.6 788.2 L1539.1 782.9 L1542.1 784.1 L1544.6 784.9 L1546.9 778.2 L1549.5 784.9 L1552.1 777.9 L1555 781.2 L1557.5 782.4 L1560 779.1 L1562.5 786.2 L1565 777.4 L1567.5 784.9 L1570.3 782.4 L1573 780.7 L1575.8 790.7 L1578.3 783.2 L1580.9 793.3 L1583.7 794.6 L1585.9 794.9 L1588.4 796.6 L1590.9 798.8 L1593.4 804.1 L1596.2 804.9 L1599.2 807.4 L1602.6 807.4 L1605.9 809.1 L1609.2 810.3 L1613.4 810 L1616.8 808.3 L1620.1 810 L1625.9 810 L1630.6 810.3" fill="none" stroke="#000" stroke-width="3.5" stroke-linejoin="round" stroke-linecap="butt"/>
</g>
<path d="M1227.6 811.85 H1631.65" stroke="#000" stroke-width="3.3" fill="none"/>
<path d="M1370.93 811.85 V825.75" stroke="#000" stroke-width="3.3" fill="none"/>
<path d="M1500.47 811.85 V825.75" stroke="#000" stroke-width="3.3" fill="none"/>
<path d="M1630 811.85 V825.75" stroke="#000" stroke-width="3.3" fill="none"/>
<path d="M1243.05 810.85 H1627" stroke="#fff" stroke-opacity="0.6" stroke-width="1.5" stroke-dasharray="3.6 6.32 5.4 4.52" stroke-dashoffset="-3.4" fill="none"/>
<path d="M1241.9 811.85 H1629" stroke="#b00000" stroke-width="3" stroke-linecap="round" stroke-dasharray="0 9.92" fill="none"/>
<path d="M1241.4 486.7 V825.75" stroke="#000" stroke-width="3.3" fill="none"/>
<path d="M1227.6 651.62 H1241.4" stroke="#000" stroke-width="3.3" fill="none"/>
<path d="M1227.6 491.4 H1241.4" stroke="#000" stroke-width="3.3" fill="none"/>
<text x="1241.8" y="854.75" font-size="22.9" text-anchor="middle" textLength="38.21" lengthAdjust="spacingAndGlyphs">250</text>
<text x="1371.33" y="854.75" font-size="22.9" text-anchor="middle" textLength="38.21" lengthAdjust="spacingAndGlyphs">300</text>
<text x="1500.87" y="854.75" font-size="22.9" text-anchor="middle" textLength="38.21" lengthAdjust="spacingAndGlyphs">350</text>
<text x="1630.4" y="854.75" font-size="22.9" text-anchor="middle" textLength="38.21" lengthAdjust="spacingAndGlyphs">400</text>
<text x="1224.3" y="820.75" font-size="22.9" text-anchor="end" textLength="31.84" lengthAdjust="spacingAndGlyphs">0.0</text>
<text x="1224.3" y="660.52" font-size="22.9" text-anchor="end" textLength="31.84" lengthAdjust="spacingAndGlyphs">0.5</text>
<text x="1224.3" y="500.3" font-size="22.9" text-anchor="end" textLength="31.84" lengthAdjust="spacingAndGlyphs">1.0</text>
<text x="1347.54" y="895.3" font-size="23.9" textLength="178.09" lengthAdjust="spacingAndGlyphs">Wavelength (nm)</text>
<text y="557.3" font-size="38.5" xml:space="preserve"><tspan x="1458.08" textLength="61.02" lengthAdjust="spacingAndGlyphs">300</tspan> <tspan x="1528.16" font-size="37.5" fill="#222429" textLength="39.11" lengthAdjust="spacingAndGlyphs">µs</tspan></text>
</g>
<text x="-1.82" y="25.5" font-size="43.6" textLength="20.68" lengthAdjust="spacingAndGlyphs">a</text>
<text x="-1.48" y="507.5" font-size="43.8" textLength="25.16" lengthAdjust="spacingAndGlyphs">b</text>
<clipPath id="clip-sup"><rect x="1790" y="0" width="175" height="60"/><rect x="1964" y="17" width="40" height="43"/></clipPath>
<g id="legend-G">
<clipPath id="clip-leg-G"><rect x="1727.6" y="10" width="47.5" height="170"/></clipPath>
<g clip-path="url(#clip-leg-G)" fill="none">
<path d="M1727.6 28.1 H1775.1" stroke="#000" stroke-width="5"/>
<path d="M1727.6 88.3 H1780.1" stroke="#000" stroke-width="5" stroke-linecap="round" stroke-dasharray="9.3 12.2"/>
<path d="M1728.2 147.4 H1775.1" stroke="#a00000" stroke-width="4.6" stroke-linecap="round" stroke-dasharray="0 13.1"/>
</g>
<text y="42.3" font-size="30.2" xml:space="preserve" clip-path="url(#clip-sup)"><tspan x="1801.57" textLength="96.11" lengthAdjust="spacingAndGlyphs">GFP–10</tspan> <tspan x="1911.04" textLength="15.88" lengthAdjust="spacingAndGlyphs">+</tspan> <tspan x="1934.34" textLength="31.22" lengthAdjust="spacingAndGlyphs">Tb</tspan><tspan x="1966.53" dy="-14.3" font-size="21">3+</tspan></text>
<text x="1801.57" y="97.8" font-size="30.2" textLength="96.11" lengthAdjust="spacingAndGlyphs">GFP–10</text>
<text y="161.3" font-size="30.2"><tspan x="1801.94" textLength="32.16" lengthAdjust="spacingAndGlyphs">Tb</tspan><tspan x="1835.53" dy="-14.3" font-size="21">3+</tspan></text>
</g>
<g id="legend-Y">
<clipPath id="clip-leg-Y"><rect x="1732.3" y="484.2" width="47.5" height="170"/></clipPath>
<g clip-path="url(#clip-leg-Y)" fill="none">
<path d="M1732.3 502.3 H1779.8" stroke="#000" stroke-width="5"/>
<path d="M1732.3 562.5 H1784.8" stroke="#000" stroke-width="5" stroke-linecap="round" stroke-dasharray="9.3 12.2"/>
<path d="M1732.9 621.6 H1779.8" stroke="#a00000" stroke-width="4.6" stroke-linecap="round" stroke-dasharray="0 13.1"/>
</g>
<text y="516.5" font-size="30.2" xml:space="preserve"><tspan x="1805.55" textLength="91.97" lengthAdjust="spacingAndGlyphs">YFP–31</tspan> <tspan x="1912.93" textLength="14.72" lengthAdjust="spacingAndGlyphs">+</tspan> <tspan x="1935.45" textLength="30.8" lengthAdjust="spacingAndGlyphs">Tb</tspan><tspan x="1967.23" dy="-14.3" font-size="21">3+</tspan></text>
<text x="1805.55" y="572" font-size="30.2" textLength="91.97" lengthAdjust="spacingAndGlyphs">YFP–31</text>
<text y="635.5" font-size="30.2"><tspan x="1805.34" textLength="32.16" lengthAdjust="spacingAndGlyphs">Tb</tspan><tspan x="1838.93" dy="-14.3" font-size="21">3+</tspan></text>
</g>
</svg>
</body></html>
